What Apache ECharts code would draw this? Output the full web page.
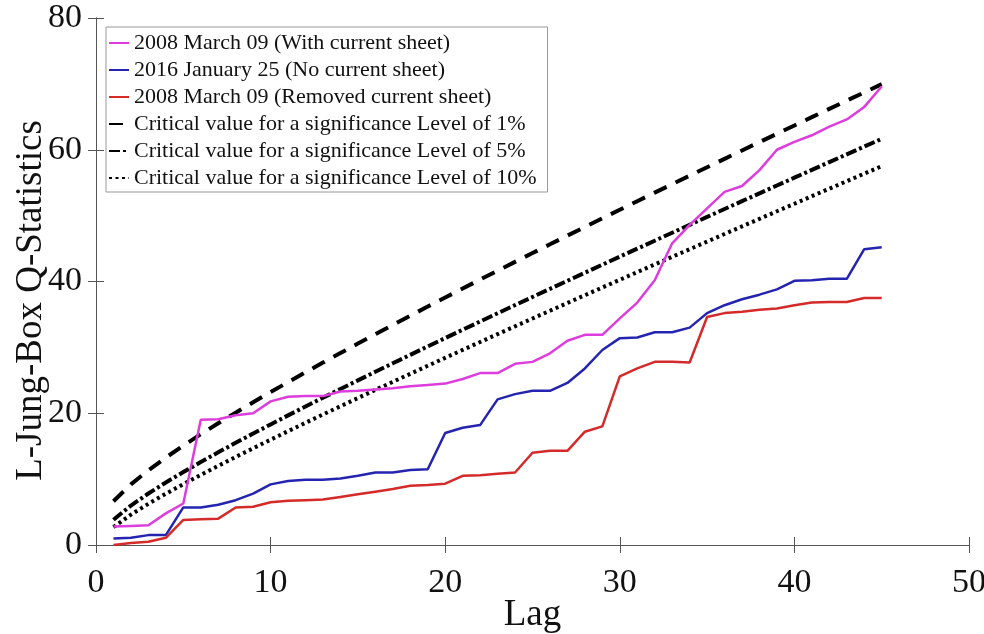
<!DOCTYPE html>
<html>
<head>
<meta charset="utf-8">
<script src="https://cdn.jsdelivr.net/npm/echarts@6/dist/echarts.min.js"></script>
<style>html,body{margin:0;padding:0;background:#fff}#c{width:984px;height:634px}</style>
</head>
<body>
<div id="c"></div>
<script>
const lags = [1,2,3,4,5,6,7,8,9,10,11,12,13,14,15,16,17,18,19,20,21,22,23,24,25,26,27,28,29,30,31,32,33,34,35,36,37,38,39,40,41,42,43,44,45];
const withSheet = [2.8,2.9,3.0,4.8,6.3,19.0,19.1,19.7,20.0,21.8,22.5,22.6,22.6,23.3,23.4,23.6,23.8,24.1,24.3,24.5,25.2,26.1,26.1,27.5,27.8,29.1,31.0,31.9,31.9,34.4,36.8,40.2,45.8,48.6,51.1,53.6,54.5,56.9,60.0,61.2,62.2,63.5,64.6,66.5,69.6];
const noSheet = [1.0,1.1,1.5,1.5,5.7,5.7,6.1,6.8,7.8,9.2,9.7,9.9,9.9,10.1,10.5,11.0,11.0,11.4,11.5,17.0,17.8,18.2,22.1,22.9,23.4,23.4,24.6,26.8,29.6,31.4,31.5,32.3,32.3,33.0,35.2,36.4,37.3,38.0,38.8,40.1,40.2,40.4,40.4,44.9,45.2];
const removedSheet = [0.0,0.3,0.5,1.1,3.8,3.9,4.0,5.7,5.8,6.5,6.7,6.8,6.9,7.3,7.7,8.1,8.5,9.0,9.1,9.3,10.5,10.6,10.8,11.0,14.0,14.3,14.3,17.2,18.0,25.6,26.8,27.8,27.8,27.7,34.6,35.2,35.4,35.7,35.9,36.4,36.8,36.9,36.9,37.5,37.5];
const crit1 = [6.635,9.210,11.345,13.277,15.086,16.812,18.475,20.090,21.666,23.209,24.725,26.217,27.688,29.141,30.578,32.000,33.409,34.805,36.191,37.566,38.932,40.289,41.638,42.980,44.314,45.642,46.963,48.278,49.588,50.892,52.191,53.486,54.776,56.061,57.342,58.619,59.893,61.162,62.428,63.691,64.950,66.206,67.459,68.710,69.957];
const crit5 = [3.841,5.991,7.815,9.488,11.070,12.592,14.067,15.507,16.919,18.307,19.675,21.026,22.362,23.685,24.996,26.296,27.587,28.869,30.144,31.410,32.671,33.924,35.172,36.415,37.652,38.885,40.113,41.337,42.557,43.773,44.985,46.194,47.400,48.602,49.802,50.998,52.192,53.384,54.572,55.758,56.942,58.124,59.304,60.481,61.656];
const crit10 = [2.706,4.605,6.251,7.779,9.236,10.645,12.017,13.362,14.684,15.987,17.275,18.549,19.812,21.064,22.307,23.542,24.769,25.989,27.204,28.412,29.615,30.813,32.007,33.196,34.382,35.563,36.741,37.916,39.087,40.256,41.422,42.585,43.745,44.903,46.059,47.212,48.363,49.513,50.660,51.805,52.949,54.090,55.230,56.369,57.505];
const names = [
  '2008 March 09 (With current sheet)',
  '2016 January 25 (No current sheet)',
  '2008 March 09 (Removed current sheet)',
  'Critical value for a significance Level of 1%',
  'Critical value for a significance Level of 5%',
  'Critical value for a significance Level of 10%'
];
const xTicks = {min:0, max:50, interval:10};
const yTicks = {min:0, max:80, interval:20};

const FONT = '"Liberation Serif","DejaVu Serif",serif';
const pair = arr => lags.map((l,i)=>[l, arr[i]]);
const axisLine = {lineStyle:{color:'#555', width:1}};
const tick = {inside:true, length:8, lineStyle:{color:'#555'}};

function mk(name, data, color, width, type){
  return {name, type:'line', data:pair(data), showSymbol:false, symbol:'none',
    lineStyle:{color, width, type, cap:'butt'}, itemStyle:{color},
    emphasis:{disabled:true}, animation:false, z: (width>3?3:4)};
}

const chart = echarts.init(document.getElementById('c'), null, {renderer:'canvas'});
chart.setOption({
  backgroundColor:'#fff',
  animation:false,
  grid:{left:96, right:15, top:18, bottom:89, containLabel:false, outerBoundsMode:'none'},
  legend:{
    orient:'vertical', left:106, top:27,
    data:names,
    backgroundColor:'#fff', borderColor:'#999', borderWidth:1,
    padding:[5,11,3,2], itemGap:5, itemWidth:20, itemHeight:14,
    itemStyle:{opacity:0, borderWidth:0},
    textStyle:{fontFamily:FONT, fontSize:22, color:'#111', lineHeight:22},
    selectedMode:false
  },
  xAxis:[
    {type:'value', position:'bottom', min:xTicks.min, max:xTicks.max, interval:xTicks.interval,
     name:'Lag', nameLocation:'middle', nameGap:52, nameMoveOverlap:false,
     nameTextStyle:{fontFamily:FONT, fontSize:37, color:'#111'},
     axisLine, axisTick:tick, splitLine:{show:false},
     axisLabel:{fontFamily:FONT, fontSize:34, color:'#111', margin:21}},
    {type:'value', position:'top', min:xTicks.min, max:xTicks.max, interval:xTicks.interval,
     axisLine, axisTick:tick, splitLine:{show:false}, axisLabel:{show:false}}
  ],
  yAxis:[
    {type:'value', position:'left', min:yTicks.min, max:yTicks.max, interval:yTicks.interval,
     name:'L-Jung-Box Q-Statistics', nameLocation:'middle', nameGap:46, nameRotate:90, nameMoveOverlap:false,
     nameTextStyle:{fontFamily:FONT, fontSize:37, color:'#111', padding:[0,38,0,0]},
     axisLine, axisTick:tick, splitLine:{show:false},
     axisLabel:{fontFamily:FONT, fontSize:34, color:'#111', margin:14}},
    {type:'value', position:'right', min:yTicks.min, max:yTicks.max, interval:yTicks.interval,
     axisLine, axisTick:tick, splitLine:{show:false}, axisLabel:{show:false}}
  ],
  series:[
    mk(names[0], withSheet, '#dd3ddd', 2.5, 'solid'),
    mk(names[1], noSheet, '#2424b0', 2.5, 'solid'),
    mk(names[2], removedSheet, '#d42a2a', 2.5, 'solid'),
    mk(names[3], crit1, '#000', 4, [14,10]),
    mk(names[4], crit5, '#000', 4, [11,3,3,3]),
    mk(names[5], crit10, '#000', 4, [3,3.5])
  ]
});
</script>
</body>
</html>
